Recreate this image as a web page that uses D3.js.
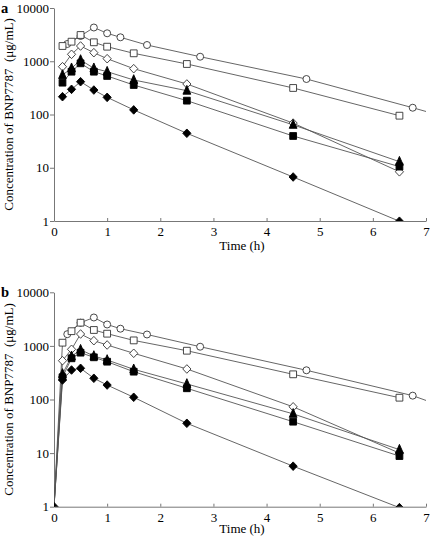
<!DOCTYPE html>
<html>
<head>
<meta charset="utf-8">
<script src="https://cdn.jsdelivr.net/npm/d3@7"></script>
<style>
  html, body { margin: 0; padding: 0; background: #fff; }
  svg { display: block; }
  svg text { font-family: 'Liberation Serif', 'Times New Roman', Times, serif !important; fill: #000; }
</style>
</head>
<body>
<svg id="chart" width="430" height="537"></svg>
<script>
// ---------------- data ----------------
const timesA = [0.16, 0.33, 0.5, 0.75, 1, 1.5, 2.5, 4.5, 6.5];
const circleTimesA = [0.25, 0.5, 0.75, 1, 1.25, 1.75, 2.75, 4.75, 6.75];
const circleA = [2109, 2981, 4302, 3350, 2818, 2019, 1217, 464, 134];
const openSquareA = [1933, 2330, 3112, 2270, 1877, 1410, 888, 315, 95];
const openDiamondA = [790, 1350, 1933, 1448, 1117, 725, 374, 69, 8.4];
const triangleA = [552, 738, 1055, 738, 637, 445, 280, 64, 13];
const filledSquareA = [396, 637, 915, 637, 529, 358, 182, 39.5, 10.5];
const filledDiamondA = [216, 297, 413, 288, 210, 122, 44.4, 6.7, 0.99];
const circleTailA = [7, 114];

const timesB = [0, 0.16, 0.33, 0.5, 0.75, 1, 1.5, 2.5, 4.5, 6.5];
const circleTimesB = [0.25, 0.5, 0.75, 1, 1.25, 1.75, 2.75, 4.75, 6.75];
const circleB = [1653, 2710, 3388, 2508, 2094, 1632, 966, 351, 118];
const openSquareB = [1, 1148, 1881, 2710, 1981, 1690, 1267, 813, 295, 108];
const openDiamondB = [1, 530, 864, 1667, 1250, 1040, 728, 371, 73, 10];
const triangleB = [1, 300, 640, 849, 648, 546, 366, 195, 54, 11.6];
const filledSquareB = [1, 260, 587, 747, 613, 507, 330, 162, 38.5, 8.8];
const filledDiamondB = [1, 231, 355, 382, 249, 186, 110, 36, 5.7, 0.96];
const circleTailB = [7, 96];

const xTicks = [0, 1, 2, 3, 4, 5, 6, 7];
const yTicks = [1, 10, 100, 1000, 10000];
const yLabel = "Concentration of BNP7787\u00a0\u00a0(\u03bcg/mL)";
const xLabel = "Time (h)";

// ---------------- drawing ----------------
const FONT = "'Liberation Serif', 'Times New Roman', Times, serif";
const svg = d3.select("#chart");

const shapes = {
  circle: "M3.5,0A3.5,3.5,0,1,1,-3.5,0A3.5,3.5,0,1,1,3.5,0Z",
  square: "M-3.4,-3.4H3.4V3.4H-3.4Z",
  diamond: "M0,-4.3L4.1,0L0,4.3L-4.1,0Z",
  triangle: "M0,-5.3L3.9,3.5L-3.9,3.5Z"
};

function panel(cfg) {
  const x = d3.scaleLinear().domain([0, 7]).range([54, 426]);
  const y = d3.scaleLog().domain([1, 10000]).range([cfg.bottom, cfg.top]);
  const g = svg.append("g");

  const clipId = "clip" + cfg.letter;
  svg.append("clipPath").attr("id", clipId)
    .append("rect").attr("x", 54).attr("y", cfg.top - 10)
    .attr("width", 376).attr("height", cfg.bottom - cfg.top + 10);

  // axes
  const yAxis = d3.axisLeft(y).tickValues(yTicks).tickFormat(d3.format("d"))
    .tickSizeInner(4).tickSizeOuter(0).tickPadding(1);
  const gy = g.append("g").attr("transform", "translate(54,0)").call(yAxis);
  const xAxis = d3.axisBottom(x).tickValues(xTicks).tickFormat(d3.format("d"))
    .tickSizeInner(-3).tickSizeOuter(0).tickPadding(5);
  const gx = g.append("g").attr("transform", `translate(0,${cfg.bottom})`).call(xAxis);
  [gx, gy].forEach(a => {
    a.attr("font-family", FONT);
    a.select(".domain").attr("stroke", "#777").attr("stroke-width", 1);
    a.selectAll(".tick line").attr("stroke", "#777");
    a.selectAll("text").attr("font-size", 13).style("font-family", FONT);
  });
  gx.selectAll("text").attr("dy", "0.78em");

  // labels
  g.append("text").attr("transform", `translate(13,${(cfg.top + cfg.bottom) / 2}) rotate(-90)`)
    .attr("text-anchor", "middle").attr("font-size", 13).style("font-family", FONT).text(yLabel);
  g.append("text").attr("x", 242).attr("y", cfg.bottom + cfg.xLabelGap)
    .attr("text-anchor", "middle").attr("font-size", 13).style("font-family", FONT).text(xLabel);
  g.append("text").attr("x", 1).attr("y", cfg.top + 5)
    .attr("font-size", 14.5).attr("font-weight", "bold").style("font-family", FONT).text(cfg.letter);

  const line = d3.line().x(d => x(d[0])).y(d => y(d[1]));
  const plot = g.append("g").attr("clip-path", `url(#${clipId})`);

  cfg.series.forEach(s => {
    const pts = s.t.map((t, i) => [t, s.v[i]]);
    const linePts = s.tail ? pts.concat([s.tail]) : pts;
    plot.append("path").datum(linePts).attr("d", line)
      .attr("fill", "none").attr("stroke", "#555").attr("stroke-width", 0.9);
  });
  cfg.series.forEach(s => {
    const pts = s.t.map((t, i) => [t, s.v[i]]).filter(d => d[0] > 0 || s.showZero);
    plot.selectAll(null).data(pts).enter().append("path")
      .attr("transform", d => `translate(${x(d[0])},${y(d[1])})`)
      .attr("d", shapes[s.shape])
      .attr("fill", s.filled ? "#000" : "#fff")
      .attr("stroke", s.filled ? "#000" : "#333")
      .attr("stroke-width", 0.9);
  });
}

panel({
  letter: "a", top: 8, bottom: 221, xLabelGap: 29,
  series: [
    { t: circleTimesA, v: circleA, shape: "circle", filled: false, tail: circleTailA },
    { t: timesA, v: openSquareA, shape: "square", filled: false },
    { t: timesA, v: openDiamondA, shape: "diamond", filled: false },
    { t: timesA, v: triangleA, shape: "triangle", filled: true },
    { t: timesA, v: filledSquareA, shape: "square", filled: true },
    { t: timesA, v: filledDiamondA, shape: "diamond", filled: true }
  ]
});

panel({
  letter: "b", top: 292.3, bottom: 506.7, xLabelGap: 26,
  series: [
    { t: circleTimesB, v: circleB, shape: "circle", filled: false, tail: circleTailB },
    { t: timesB, v: openSquareB, shape: "square", filled: false },
    { t: timesB, v: openDiamondB, shape: "diamond", filled: false },
    { t: timesB, v: triangleB, shape: "triangle", filled: true },
    { t: timesB, v: filledSquareB, shape: "square", filled: true },
    { t: timesB, v: filledDiamondB, shape: "diamond", filled: true, showZero: true }
  ]
});
</script>
</body>
</html>
